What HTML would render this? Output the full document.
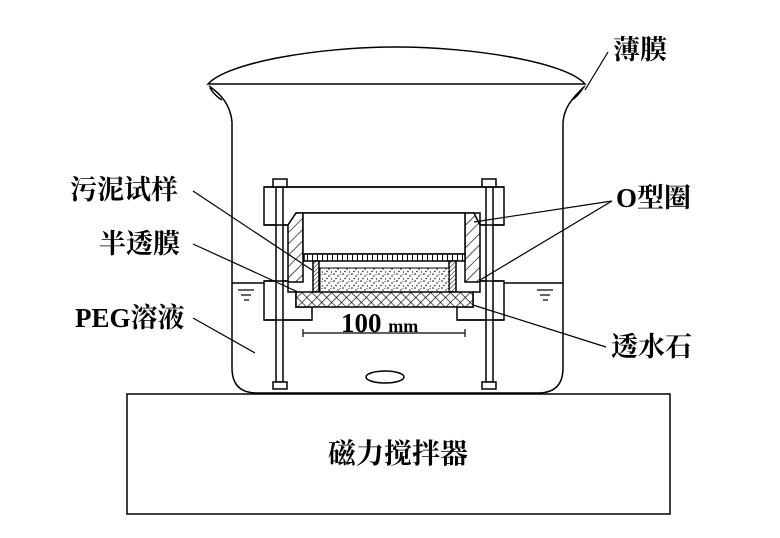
<!DOCTYPE html>
<html><head><meta charset="utf-8"><style>
html,body{margin:0;padding:0;background:#fff}
svg{display:block}
text{font-family:"Liberation Serif","Noto Serif CJK SC",serif;font-weight:bold;fill:#000}
</style></head><body>
<svg width="780" height="538" viewBox="0 0 780 538" xmlns="http://www.w3.org/2000/svg">
<defs>
<pattern id="hatch" width="8" height="8" patternUnits="userSpaceOnUse" patternTransform="rotate(45)">
<rect width="8" height="8" fill="#fff"/><line x1="0" y1="0" x2="0" y2="8" stroke="#000" stroke-width="1.3"/></pattern>
<pattern id="hatch2" width="3" height="3" patternUnits="userSpaceOnUse" patternTransform="rotate(45)">
<rect width="3" height="3" fill="#fff"/><line x1="0" y1="0" x2="0" y2="3" stroke="#000" stroke-width="1"/></pattern>
<pattern id="cross" width="7" height="7" patternUnits="userSpaceOnUse" patternTransform="rotate(45)">
<rect width="7" height="7" fill="#fff"/><line x1="0" y1="0" x2="0" y2="7" stroke="#000" stroke-width="1.3"/><line x1="0" y1="0" x2="7" y2="0" stroke="#000" stroke-width="1.3"/></pattern>
<pattern id="dots" width="9" height="7" patternUnits="userSpaceOnUse">
<rect width="9" height="7" fill="#fff"/><circle cx="1" cy="1" r="0.8"/><circle cx="5" cy="3" r="0.7"/><circle cx="3" cy="5.5" r="0.7"/><circle cx="7.5" cy="6" r="0.6"/><circle cx="7" cy="1.5" r="0.5"/></pattern>
<pattern id="grate" width="5" height="10" patternUnits="userSpaceOnUse">
<rect width="5" height="10" fill="#fff"/><line x1="2.5" y1="0" x2="2.5" y2="10" stroke="#000" stroke-width="1"/></pattern>
</defs>
<g fill="none" stroke="#000" stroke-width="1.5">
<path d="M208,84 C228,62 320,47 396,47 C472,47 566,62 585,84 Z" fill="#fff"/>
<path d="M209,86 Q222,95 227,105 Q231,112 232,122 L232,368 Q232,393 257,393 L538,393 Q563,393 563,368 L563,122 Q564,112 569,104 Q575,95 585,86"/>
<path d="M210,88 Q215,96 222,100" /><path d="M583,88 Q578,96 572,100"/>
<line x1="232" y1="283" x2="264" y2="283"/><line x1="504" y1="283" x2="563" y2="283"/>
<g stroke-width="1.2"><line x1="238" y1="290" x2="254" y2="290"/><line x1="241" y1="295" x2="251" y2="295"/><line x1="244" y1="300" x2="249" y2="300"/>
<line x1="537" y1="290" x2="553" y2="290"/><line x1="540" y1="295" x2="550" y2="295"/><line x1="543" y1="300" x2="548" y2="300"/></g>
<path d="M264,187 L504,187 L504,225 L480,225 L480,213 L474,213 L296,213 L288,225 L264,225 Z" fill="#fff"/>
<path d="M288,225 L296,213 L303,213 L303,282 L288,282 Z" fill="url(#hatch)"/>
<path d="M465,213 L474,213 L480,225 L480,282 L465,282 Z" fill="url(#hatch)"/>
<rect x="303" y="213" width="162" height="41" fill="#fff"/>
<rect x="304" y="254" width="161" height="7" fill="url(#grate)"/>
<rect x="313" y="261" width="6" height="31" fill="url(#hatch2)"/>
<rect x="449" y="261" width="7" height="31" fill="url(#hatch2)"/>
<rect x="320" y="268" width="129" height="24" fill="url(#dots)" stroke-width="1"/>
<path d="M264,281 L288,281 L288,292 L296,292 L296,307 L312,307 L312,320 L264,320 Z" fill="#fff"/>
<path d="M504,281 L480,281 L480,292 L473,292 L473,307 L457,307 L457,320 L504,320 Z" fill="#fff"/>
<rect x="296" y="292" width="177" height="15" fill="url(#cross)"/>
<rect x="276" y="187" width="7" height="195" fill="#fff"/>
<rect x="486" y="187" width="7" height="195" fill="#fff"/>
<rect x="273" y="179" width="14" height="8" fill="#fff"/>
<rect x="482" y="179" width="14" height="8" fill="#fff"/>
<rect x="273" y="382" width="14" height="7" fill="#fff"/>
<rect x="482" y="382" width="14" height="7" fill="#fff"/>
<line x1="264" y1="187" x2="504" y2="187"/>
<line x1="264" y1="225" x2="288" y2="225"/><line x1="480" y1="225" x2="504" y2="225"/>
<line x1="264" y1="320" x2="312" y2="320"/><line x1="457" y1="320" x2="504" y2="320"/>
<line x1="264" y1="281" x2="288" y2="281"/><line x1="480" y1="281" x2="504" y2="281"/>
<ellipse cx="385" cy="377" rx="19" ry="6"/>
<line x1="303" y1="333" x2="465" y2="333" stroke-width="1.2"/>
<line x1="303" y1="329" x2="303" y2="337" stroke-width="1.2"/><line x1="465" y1="329" x2="465" y2="337" stroke-width="1.2"/>
<rect x="127" y="394" width="543" height="120"/>
<g stroke-width="1.2">
<line x1="608" y1="52" x2="585" y2="90"/>
<line x1="193" y1="191" x2="312" y2="270"/>
<line x1="193" y1="244" x2="298" y2="292"/>
<line x1="193" y1="318" x2="255" y2="353"/>
<line x1="612" y1="201" x2="474" y2="222"/>
<line x1="612" y1="201" x2="480" y2="280"/>
<line x1="606" y1="347" x2="473" y2="305"/>
</g>
</g>
<text x="613" y="59" font-size="27">薄膜</text>
<text x="70" y="199" font-size="27">污泥试样</text>
<text x="99" y="253" font-size="27">半透膜</text>
<text x="75" y="327" font-size="27">PEG溶液</text>
<text x="616" y="207" font-size="27">O型圈</text>
<text x="611" y="356" font-size="27">透水石</text>
<text x="341" y="332" font-size="27" font-weight="normal">100 <tspan font-size="18" font-weight="bold">mm</tspan></text>
<text x="328" y="463" font-size="28" font-weight="normal">磁力搅拌器</text>
</svg>
</body></html>
